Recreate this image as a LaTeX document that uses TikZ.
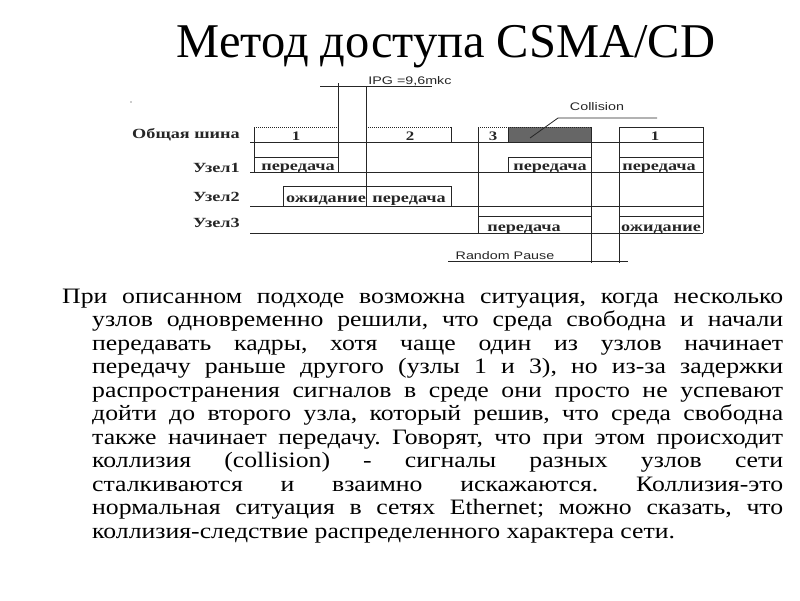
\documentclass[tikz,border=0pt]{standalone}
\usepackage{fontspec}
\usepackage{graphicx}
\setmainfont{Liberation Serif}
\newfontfamily\bodyfont{Liberation Serif}[FakeStretch=1.17]
\newfontfamily\dsans{Liberation Sans}
\newcommand{\wtxt}[1]{\scalebox{1.3}[1]{#1}}
\frenchspacing
\begin{document}
\begin{tikzpicture}[x=1pt,y=-1pt,
  ln/.style={line width=1pt, draw=black!85},
  dtop/.style={line width=1pt, draw=black!85, densely dotted},
  lab/.style={font=\fontsize{14}{16}\selectfont\bfseries, text=black!85, inner sep=0, anchor=base east},
  cell/.style={font=\fontsize{14}{16}\selectfont\bfseries, text=black!85, inner sep=0, anchor=base},
  digit/.style={font=\fontsize{13}{15}\selectfont\bfseries, text=black!85, inner sep=0, anchor=base},
  stxt/.style={font=\dsans\fontsize{11}{13}\selectfont, text=black!85, inner sep=0, anchor=base},
  body/.style={font=\bodyfont\fontsize{22}{23.5}\selectfont, inner sep=0, anchor=base west}]
\useasboundingbox (0,0) rectangle (800,600);

% title
\node[font=\fontsize{48.5}{50}\selectfont, inner sep=0, anchor=base] (title) at (446,57) {Метод доступа CSMA/CD};

% stray dot
\fill[black!40] (131,102) circle (0.8);

% hatched collision area
\fill[black!60] (508,127) rectangle (591,142);

% base lines of the rows
\foreach \yy in {142,172,206,233} \draw[ln] (250,\yy) -- (703,\yy);

% vertical lines
\draw[ln] (254,127) -- (254,172);
\draw[ln] (338,83) -- (338,172);
\draw[ln] (366,86) -- (366,206);
\draw[ln] (451,127) -- (451,142);
\draw[ln] (478,127) -- (478,233);
\draw[ln] (508,127) -- (508,142);
\draw[ln] (508,157) -- (508,172);
\draw[ln] (591,127) -- (591,263);
\draw[ln] (619,127) -- (619,263);
\draw[ln] (703,127) -- (703,233);
\draw[ln] (283,186) -- (283,206);
\draw[ln] (451,186) -- (451,206);

% box tops
\draw[ln] (254,157) -- (338,157);
\draw[ln] (508,157) -- (591,157);
\draw[ln] (619,157) -- (703,157);
\draw[ln] (283,186) -- (451,186);
\draw[ln] (478,216) -- (591,216);
\draw[ln] (619,216) -- (703,216);
\draw[ln] (619,127) -- (703,127);
\draw[dtop] (254,127) -- (338,127);
\draw[dtop] (366,127) -- (451,127);
\draw[dtop] (478,127) -- (591,127);

% IPG, random pause, collision leader
\draw[ln] (320,86) -- (432,86);
\draw[ln] (448,261) -- (628,261);
\draw[line width=0.8pt, draw=black!85] (657,118) -- (558,118) -- (530,138);

% small labels
\node[stxt] (ipg) at (410,84) {\wtxt{IPG =9,6mkc}};
\node[stxt] (coll) at (597,110.5) {\wtxt{Collision}};
\node[stxt] (rp) at (505,259) {\wtxt{Random Pause}};

% row labels
\node[lab] (bus) at (240,138) {\wtxt{Общая шина}};
\node[lab] (n1) at (240,172) {\wtxt{Узел1}};
\node[lab] (n2) at (240,201) {\wtxt{Узел2}};
\node[lab] (n3) at (240,227) {\wtxt{Узел3}};

% bus frames
\node[digit] (f1) at (296,140) {\wtxt{1}};
\node[digit] (f2) at (410,140) {\wtxt{2}};
\node[digit] (f3) at (493,140) {\wtxt{3}};
\node[digit] (f4) at (655,140) {\wtxt{1}};

% node activity
\node[cell] (a1) at (298,170) {\wtxt{передача}};
\node[cell] (a2) at (550,170) {\wtxt{передача}};
\node[cell] (a3) at (659,170) {\wtxt{передача}};
\node[cell] (b1) at (326,202) {\wtxt{ожидание}};
\node[cell] (b2) at (409,202) {\wtxt{передача}};
\node[cell] (c1) at (524,231) {\wtxt{передача}};
\node[cell] (c2) at (661,231) {\wtxt{ожидание}};

% paragraph
\node[body] (l1) at (62,303) {\makebox[721pt][s]{При описанном подходе возможна ситуация, когда несколько}};
\node[body] (l2) at (92,326.5) {\makebox[691pt][s]{узлов одновременно решили, что среда свободна и начали}};
\node[body] (l3) at (92,350) {\makebox[691pt][s]{передавать кадры, хотя чаще один из узлов начинает}};
\node[body] (l4) at (92,373.5) {\makebox[691pt][s]{передачу раньше другого (узлы 1 и 3), но из-за задержки}};
\node[body] (l5) at (92,397) {\makebox[691pt][s]{распространения сигналов в среде они просто не успевают}};
\node[body] (l6) at (92,420.5) {\makebox[691pt][s]{дойти до второго узла, который решив, что среда свободна}};
\node[body] (l7) at (92,444) {\makebox[691pt][s]{также начинает передачу. Говорят, что при этом происходит}};
\node[body] (l8) at (92,467.5) {\makebox[691pt][s]{коллизия (collision) - сигналы разных узлов сети}};
\node[body] (l9) at (92,491) {\makebox[691pt][s]{сталкиваются и взаимно искажаются. Коллизия-это}};
\node[body] (l10) at (92,514.5) {\makebox[691pt][s]{нормальная ситуация в сетях Ethernet; можно сказать, что}};
\node[body] (l11) at (92,538) {коллизия-следствие распределенного характера сети.};
\end{tikzpicture}
\end{document}
